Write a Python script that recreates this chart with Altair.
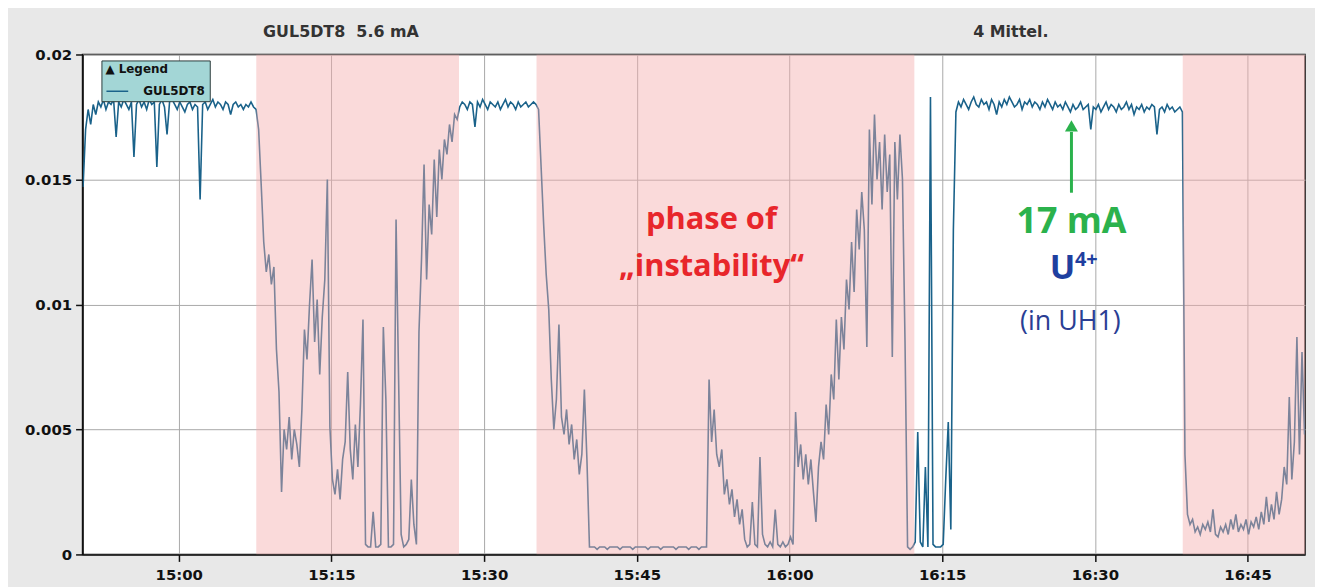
import altair as alt
import pandas as pd

# ---------------- data (current in units of 1e-4 A, one sample every 15 s) ----------------
T0_MIN = -9.4        # first sample, minutes relative to 15:00
STEP_MIN = 0.25      # 15 s sampling

stable_start = [147,170,178,172,180,176,181,179,182,178,
                181,180,182,167,181,179,182,180,178,181,
                159,180,182,179,181,178,182,180,181,155,
                180,182,179,168,181,182,180,178,181,179,
                177,180,181,178,180,179,142,180,181,178,
                180,182,179,181,180,178,181,180,176,180,
                181,179,180,178,180,179,181,179,178]
unstable_1 = [170,148,125,113,120,108,115,82,65,25,
              50,42,55,38,50,44,35,58,90,78,
              100,118,85,102,72,95,110,150,51,30,
              24,34,22,38,45,73,42,30,52,35,
              60,94,4,3,3,17,3,3,4,91,
              62,3,3,4,134,70,8,3,4,6,
              30,12,4,89,118,156,110,140,128,158,
              135,162,150,166,160,172,165,176,174]
stable_mid = [179,181,180,178,181,180,171,181,179,182,
              180,178,181,180,179,181,178,180,182,179,
              181,180,178,181,179,180,181,179,180,181,180]
unstable_2a = [178,155,132,112,98,70,50,62,92,55,
               48,58,44,52,38,46,32,40,66,38,3]
unstable_2b = [3,3,2,3,3,3,2,3,3,3,3,2,3,3,3,3,2,3,3,3,
               3,3,2,3,3,3,3,2,3,3,3,3,3,2,3,3,3,3,2,3,
               3,3,2,3,3,3]
unstable_2c = [70,45,58,40,35,42,24,30,20,26,
               15,22,12,18,6,3,4,21,4,3,
               39,8,4,3,5,3,18,4,3,5,
               3,4,7,4,57,35,44,30,40,28,
               38,25,13,35,45,38,60,48,72,62,
               94,70,95,82,110,98,125,105,138,122,
               145,130,83,170,140,176,150,165,138,168,
               145,160,79,165,142,168,150,85,3,2]
restart = [3,5,49,5,3,35,3,183,4,3,3,3,4,30,53,10,130,177]
stable_17mA = [181,179,182,180,178,181,183,180,179,182,
               180,181,178,182,180,176,181,179,182,180,
               183,181,179,180,182,178,181,180,182,179,
               181,180,178,181,179,182,180,178,181,179,
               180,178,181,179,177,180,178,179,181,178,
               179,180,170,179,178,180,177,179,181,178,
               180,179,177,180,178,179,181,178,180,176,
               179,178,180,177,179,178,180,179,168,178,
               179,177,180,178,179,177,178,179,177]
unstable_3 = [40,16,12,14,9,11,8,12,10,13,
              9,18,8,7,11,9,12,8,14,10,
              16,9,12,10,14,8,13,11,15,10,
              17,12,23,13,20,14,25,16,22,35,
              28,63,30,45,87,40,81,48]

# phases of instability (shaded)
band_start = ["15:07:37", "15:35:09", "16:38:38"]
band_end = ["15:27:32", "16:12:16", "16:50:45"]

DAY = "2024-01-01 "
values_e4 = (stable_start + unstable_1 + stable_mid + unstable_2a + unstable_2b
             + unstable_2c + restart + stable_17mA + unstable_3)
base_t = pd.Timestamp(DAY + "15:00:00")
times = [base_t + pd.to_timedelta(T0_MIN + i * STEP_MIN, unit="m") for i in range(len(values_e4))]
df = pd.DataFrame({"time": times, "value": [v / 10000 for v in values_e4], "series": "GUL5DT8"})

bands = pd.DataFrame({"start": [pd.Timestamp(DAY + s) for s in band_start],
                      "end": [pd.Timestamp(DAY + e) for e in band_end]})

def ann(t, v, label):
    return pd.DataFrame({"time": [pd.Timestamp(DAY + t)], "value": [v], "label": [label]})

# ---------------- scales / encodings ----------------
xscale = alt.Scale(domain=[alt.DateTime(year=2024, month=1, date=1, hours=14, minutes=50, seconds=33),
                           alt.DateTime(year=2024, month=1, date=1, hours=16, minutes=50, seconds=39)],
                   nice=False)
yscale = alt.Scale(domain=[0, 0.02], nice=False)
tick_vals = [alt.DateTime(year=2024, month=1, date=1, hours=h, minutes=m)
             for h, m in [(15, 0), (15, 15), (15, 30), (15, 45), (16, 0), (16, 15), (16, 30), (16, 45)]]
xaxis = alt.Axis(values=tick_vals, format="%H:%M", title=None, tickSize=7, labelPadding=6,
                 domainWidth=1.5, tickWidth=1.5, grid=True)
yaxis = alt.Axis(values=[0, 0.005, 0.01, 0.015, 0.02], format="~g", title=None, tickSize=7,
                 labelPadding=4, domainWidth=1.5, tickWidth=1.5, grid=True)

X = alt.X("time:T", scale=xscale, axis=xaxis)
Y = alt.Y("value:Q", scale=yscale, axis=yaxis)

line = alt.Chart(df).mark_line(strokeWidth=1.6, clip=True).encode(
    x=X, y=Y,
    color=alt.Color("series:N", scale=alt.Scale(range=["#1a628a"]),
                    legend=alt.Legend(title="▲ Legend", orient="none", legendX=19, legendY=6,
                                      fillColor="#a3d6d6", strokeColor="#2b3b3b", padding=4,
                                      titleFont="DejaVu Sans", titleFontSize=12, titleFontWeight="bold",
                                      titleColor="#111", titlePadding=3,
                                      labelFont="DejaVu Sans", labelFontSize=12, labelFontWeight="bold",
                                      labelColor="#111", symbolType="stroke", symbolStrokeWidth=1.5,
                                      symbolSize=480, labelOffset=14)),
)

shade = alt.Chart(bands).mark_rect(color="#f4adad", opacity=0.45, clip=True).encode(
    x=alt.X("start:T", scale=xscale, axis=xaxis), x2="end:T")

bold_c = dict(font="Open Sans", fontWeight="bold", baseline="middle", align="center")
phase1 = alt.Chart(ann("15:52:20", 0.01336, "phase of")).mark_text(
    fontSize=31, color="#e8262b", **bold_c).encode(x=X, y=Y, text="label:N")
phase2 = alt.Chart(ann("15:52:20", 0.01150, "„instability“")).mark_text(
    fontSize=31, color="#e8262b", **bold_c).encode(x=X, y=Y, text="label:N")
ma = alt.Chart(ann("16:27:42", 0.01328, "17 mA")).mark_text(
    fontSize=36, color="#2bb24c", **bold_c).encode(x=X, y=Y, text="label:N")
u_main = alt.Chart(ann("16:26:50", 0.01140, "U")).mark_text(
    fontSize=34, color="#1f3f9f", **bold_c).encode(x=X, y=Y, text="label:N")
u_sup = alt.Chart(ann("16:29:10", 0.01178, "4+")).mark_text(
    fontSize=20, color="#1f3f9f", **bold_c).encode(x=X, y=Y, text="label:N")
uh1 = alt.Chart(ann("16:27:36", 0.0093, "(in UH1)")).mark_text(
    fontSize=27, color="#2a3e94", font="Open Sans", baseline="middle", align="center").encode(
    x=X, y=Y, text="label:N")

arrow_df = pd.DataFrame({"time": [pd.Timestamp(DAY + "16:27:42")], "value": [0.01447], "value2": [0.01690]})
shaft = alt.Chart(arrow_df).mark_rule(color="#2bb24c", strokeWidth=3).encode(x=X, y=Y, y2="value2:Q")
head = alt.Chart(ann("16:27:42", 0.01714, "")).mark_point(
    shape="triangle-up", filled=True, size=170, color="#2bb24c", opacity=1).encode(x=X, y=Y)

hdr_font = dict(font="DejaVu Sans", fontWeight="bold", fontSize=16, color="#333", baseline="middle",
                align="center")
title_df = pd.DataFrame({"label": ["GUL5DT8\u00a0\u00a05.6 mA"]})
title_df2 = pd.DataFrame({"label": ["4 Mittel."]})
head1 = alt.Chart(title_df).mark_text(**hdr_font).encode(x=alt.value(260), y=alt.value(-23), text="label:N")
head2 = alt.Chart(title_df2).mark_text(**hdr_font).encode(x=alt.value(934), y=alt.value(-23), text="label:N")

chart = alt.layer(line, shade, phase1, phase2, ma, u_main, u_sup, uh1, shaft, head, head1, head2).properties(
    width=1230, height=503, autosize="none",
    padding={"left": 75, "top": 45, "right": 10, "bottom": 31},
).configure(background="#e8e8e8").configure_view(
    fill="white", stroke="#111", strokeWidth=1.5
).configure_axis(
    gridColor="#a8a8a8", gridWidth=1, domainColor="#111", tickColor="#111",
    labelFont="DejaVu Sans", labelFontWeight="bold", labelFontSize=15, labelColor="#111"
)

chart.save("out.html", embed_options={"renderer": "svg", "actions": False})
